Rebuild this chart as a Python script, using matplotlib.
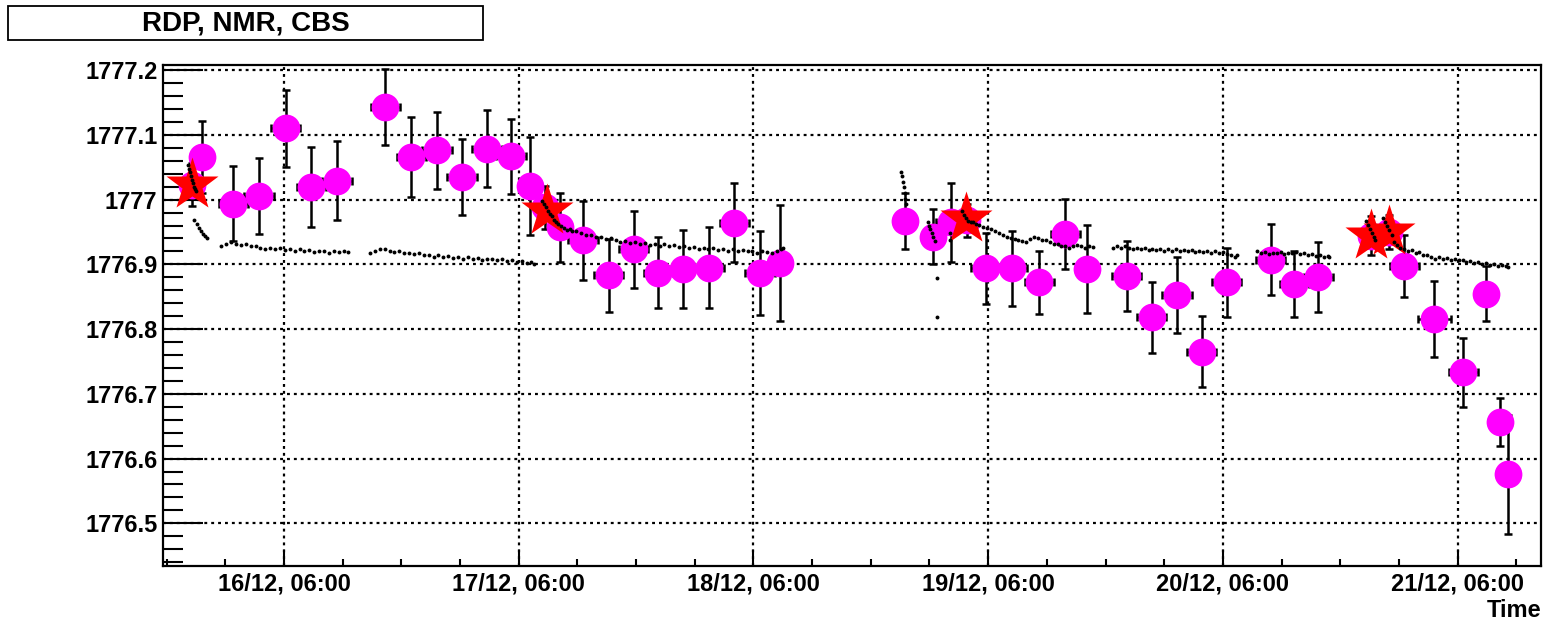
import numpy as np
import matplotlib
matplotlib.use('Agg')
import matplotlib.pyplot as plt
import matplotlib.dates as mdates
from matplotlib.ticker import MultipleLocator, FuncFormatter
from matplotlib.patches import Rectangle
from datetime import datetime

plt.rcParams['font.family'] = 'Liberation Sans'
plt.rcParams['font.weight'] = 'bold'

# all times are hours counted from 15/12 00:00
T0 = datetime(2009, 12, 15)

# === RDP points (magenta, with errors) ===
rdp_hours = [20.60, 21.59, 24.82, 27.45, 30.18, 32.79, 35.42, 40.36, 43.02, 45.64,
             48.20, 50.76, 53.21, 55.15, 56.69, 58.22, 60.57, 63.20, 65.75, 68.27,
             70.83, 73.45, 76.04, 78.67, 80.68, 93.49, 96.39, 98.16, 99.83, 101.74,
             104.43, 107.22, 109.88, 112.07, 116.16, 118.71, 121.30, 123.83, 126.38, 130.88,
             133.29, 135.75, 141.14, 142.98, 144.54, 147.61, 150.57, 152.86, 154.33, 155.11]
rdp_value = [1777.023, 1777.066, 1776.994, 1777.006, 1777.110, 1777.020, 1777.029, 1777.143, 1777.066, 1777.076,
             1777.035, 1777.079, 1777.067, 1777.021, 1776.988, 1776.957, 1776.937, 1776.883, 1776.923, 1776.887,
             1776.893, 1776.895, 1776.964, 1776.887, 1776.902, 1776.967, 1776.943, 1776.965, 1776.968, 1776.894,
             1776.894, 1776.872, 1776.947, 1776.893, 1776.882, 1776.818, 1776.853, 1776.765, 1776.872, 1776.907,
             1776.869, 1776.881, 1776.944, 1776.950, 1776.897, 1776.816, 1776.733, 1776.855, 1776.656, 1776.576]
rdp_err = [0.033, 0.055, 0.058, 0.059, 0.059, 0.062, 0.061, 0.059, 0.062, 0.060,
           0.058, 0.059, 0.058, 0.076, 0.033, 0.053, 0.061, 0.056, 0.060, 0.055,
           0.060, 0.062, 0.061, 0.065, 0.089, 0.044, 0.043, 0.061, 0.025, 0.055,
           0.058, 0.048, 0.054, 0.068, 0.054, 0.055, 0.059, 0.055, 0.054, 0.055,
           0.051, 0.054, 0.030, 0.026, 0.048, 0.059, 0.054, 0.042, 0.037, 0.092]
rdp_herr = [0.6, 0.6, 1.5, 1.5, 1.5, 1.5, 1.5, 1.5, 1.5, 1.5,
            1.5, 1.5, 1.5, 0.6, 0.6, 0.6, 1.5, 1.5, 1.5, 1.5,
            1.5, 1.5, 1.5, 1.5, 0.6, 0.6, 0.6, 1.5, 0.6, 1.5,
            1.5, 1.5, 1.5, 0.6, 1.5, 1.5, 1.5, 1.5, 1.5, 1.5,
            1.5, 1.5, 0.6, 0.6, 1.5, 1.7, 1.5, 1.0, 0.6, 0.6]

# === CBS points (red stars) ===
cbs_hours = [20.55, 56.86, 99.73, 141.14, 142.98]
cbs_value = [1777.022, 1776.982, 1776.970, 1776.944, 1776.950]

# === NMR readings (small black dots) ===
nmr_hours = [
    # 15/12 evening
    20.20, 20.30, 20.40, 20.50, 20.60, 20.70, 20.80, 20.90, 21.00,
    20.80, 21.11, 21.31, 21.52, 21.72, 21.93, 22.13,
    23.6, 24.1, 24.6, 25.1, 25.6, 26.1, 26.6, 27.1, 27.6, 28.1, 28.6, 29.1, 29.6, 30.1,
    30.6, 31.1, 31.6, 32.1, 32.6, 33.1, 33.6, 34.1, 34.6, 35.1, 35.6, 36.1, 36.6,
    # 16/12 afternoon to 17/12 morning
    38.8, 39.3, 39.8, 40.3, 40.8, 41.3, 41.8, 42.3, 42.8, 43.3, 43.8, 44.3, 44.8, 45.3,
    45.8, 46.3, 46.8, 47.3, 47.8, 48.3, 48.8, 49.3, 49.8, 50.3, 50.8, 51.3, 51.8, 52.3,
    52.8, 53.3, 53.8, 54.3, 54.8, 55.3, 55.6,
    # 17/12 to 18/12
    56.4, 56.6, 56.8, 57.0, 57.2, 57.4, 57.6, 57.8, 58.0, 58.3, 58.6, 58.9, 59.2, 59.5,
    59.9, 60.4, 60.9, 61.4, 61.9, 62.4, 62.9, 63.4, 63.9, 64.4, 64.9, 65.4, 65.9, 66.4,
    66.9, 67.4, 67.9, 68.4, 68.9, 69.4, 69.9, 70.4, 70.9, 71.4, 71.9, 72.4, 72.9, 73.4,
    73.9, 74.4, 74.9, 75.4, 75.9, 76.4, 76.9, 77.4, 77.9, 78.4, 78.9, 79.4, 79.9, 80.4,
    80.8, 81.0,
    # 18/12 evening
    93.05, 93.15, 93.25, 93.35, 93.45, 93.55, 93.62,
    95.80, 95.95, 96.10, 96.25, 96.40, 96.55, 96.76, 96.76, 98.09, 98.09,
    99.3, 99.5, 99.7, 99.9, 100.2, 100.5, 100.8, 101.1, 101.5, 101.9, 102.3, 102.7, 103.1,
    103.5, 103.9, 104.3, 104.7, 105.1, 105.5, 105.9, 106.3, 106.7, 107.1, 107.5, 107.9,
    108.3, 108.7, 109.1, 109.5, 109.9, 110.3, 110.7, 111.1, 111.5, 111.9, 112.3, 112.7,
    # 19/12 to 20/12
    114.8, 115.2, 115.6, 116.0, 116.4, 116.8, 117.2, 117.6, 118.0, 118.4, 118.8, 119.2,
    119.6, 120.0, 120.4, 120.8, 121.2, 121.6, 122.0, 122.4, 122.8, 123.2, 123.6, 124.0,
    124.4, 124.8, 125.2, 125.6, 126.0, 126.4, 126.8, 127.2, 127.4,
    129.5, 129.9, 130.3, 130.7, 131.1, 131.5, 131.9, 132.3, 132.7, 133.1, 133.5, 133.9,
    134.3, 134.7, 135.1, 135.5, 135.9, 136.3, 136.7, 136.9,
    # 20/12 evening to 21/12
    140.6, 140.8, 141.0, 141.2, 141.4, 141.55, 142.4, 142.6, 142.8, 143.0, 143.25,
    143.5, 143.8, 144.1, 144.5, 144.9, 145.3, 145.7, 146.1, 146.5, 146.9, 147.3, 147.7,
    148.1, 148.5, 148.9, 149.3, 149.7, 150.1, 150.5, 150.9, 151.3, 151.7, 152.1, 152.5,
    152.9, 153.3, 153.7, 154.1, 154.5, 154.9, 155.2,
]
nmr_value = [
    1777.053, 1777.047, 1777.042, 1777.036, 1777.030, 1777.025, 1777.020, 1777.016, 1777.013,
    1776.968, 1776.962, 1776.956, 1776.951, 1776.947, 1776.944, 1776.941,
    1776.928, 1776.931, 1776.934, 1776.932, 1776.930, 1776.931, 1776.928, 1776.929, 1776.926,
    1776.924, 1776.926, 1776.923, 1776.925, 1776.922, 1776.924, 1776.921, 1776.923, 1776.920,
    1776.922, 1776.919, 1776.921, 1776.920, 1776.918, 1776.920, 1776.919, 1776.921, 1776.919,
    1776.918, 1776.920, 1776.923, 1776.924, 1776.921, 1776.919, 1776.920, 1776.917, 1776.918,
    1776.916, 1776.917, 1776.914, 1776.915, 1776.912, 1776.914, 1776.911, 1776.913, 1776.910,
    1776.912, 1776.909, 1776.911, 1776.908, 1776.910, 1776.907, 1776.909, 1776.908, 1776.906,
    1776.908, 1776.905, 1776.907, 1776.904, 1776.905, 1776.902, 1776.903, 1776.900,
    1776.998, 1776.993, 1776.988, 1776.983, 1776.978, 1776.974, 1776.969, 1776.965, 1776.962,
    1776.959, 1776.956, 1776.953, 1776.954, 1776.952, 1776.951, 1776.948, 1776.946, 1776.945,
    1776.943, 1776.942, 1776.939, 1776.940, 1776.937, 1776.935, 1776.936, 1776.933, 1776.934,
    1776.931, 1776.933, 1776.930, 1776.932, 1776.929, 1776.931, 1776.928, 1776.930, 1776.927,
    1776.929, 1776.926, 1776.927, 1776.924, 1776.926, 1776.923, 1776.925, 1776.922, 1776.924,
    1776.921, 1776.923, 1776.920, 1776.922, 1776.920, 1776.921, 1776.918, 1776.920, 1776.919,
    1776.917, 1776.920, 1776.923, 1776.926,
    1777.043, 1777.036, 1777.028, 1777.019, 1777.010, 1777.001, 1776.994,
    1776.966, 1776.960, 1776.954, 1776.948, 1776.942, 1776.936, 1776.879, 1776.819, 1776.948, 1776.937,
    1776.982, 1776.976, 1776.971, 1776.967, 1776.966, 1776.965, 1776.962, 1776.961, 1776.958,
    1776.956, 1776.954, 1776.951, 1776.948, 1776.945, 1776.942, 1776.940, 1776.939, 1776.937,
    1776.936, 1776.935, 1776.939, 1776.943, 1776.940, 1776.938, 1776.937, 1776.934, 1776.932,
    1776.931, 1776.929, 1776.928, 1776.926, 1776.929, 1776.930, 1776.928, 1776.926, 1776.928,
    1776.927,
    1776.926, 1776.928, 1776.925, 1776.928, 1776.926, 1776.924, 1776.926, 1776.923, 1776.925,
    1776.922, 1776.924, 1776.922, 1776.924, 1776.921, 1776.923, 1776.921, 1776.923, 1776.920,
    1776.922, 1776.920, 1776.922, 1776.919, 1776.921, 1776.919, 1776.921, 1776.918, 1776.920,
    1776.917, 1776.919, 1776.916, 1776.914, 1776.912, 1776.915,
    1776.920, 1776.917, 1776.919, 1776.916, 1776.918, 1776.917, 1776.919, 1776.916, 1776.918,
    1776.917, 1776.919, 1776.916, 1776.917, 1776.915, 1776.916, 1776.913, 1776.914, 1776.912,
    1776.913, 1776.911,
    1776.967, 1776.961, 1776.955, 1776.948, 1776.942, 1776.937, 1776.972, 1776.966, 1776.960,
    1776.953, 1776.945,
    1776.935, 1776.930, 1776.925, 1776.924, 1776.921, 1776.922, 1776.918, 1776.919, 1776.914,
    1776.915, 1776.911, 1776.909, 1776.911, 1776.908, 1776.910, 1776.907, 1776.909, 1776.906,
    1776.907, 1776.904, 1776.905, 1776.902, 1776.903, 1776.901, 1776.902, 1776.899, 1776.900,
    1776.898, 1776.899, 1776.897, 1776.896,
]

t_start, t_stop = 17.63, 158.52
y_min, y_max = 1776.434, 1777.208


def to_num(hours):
    return mdates.date2num(T0) + np.asarray(hours) / 24.0


fig = plt.figure(figsize=(15.49, 6.22), dpi=100)
ax = fig.add_axes([0.1052, 0.0900, 0.8896, 0.8055])

# RDP with error bars
ax.errorbar(to_num(rdp_hours), rdp_value, yerr=rdp_err, xerr=np.asarray(rdp_herr) / 24.0,
            fmt='o', color='#ff00ff', ms=20, mec='none', ecolor='black',
            elinewidth=1.8, capsize=2.6, capthick=1.8, zorder=3)

# CBS stars
ax.plot(to_num(cbs_hours), cbs_value, '*', color='#ff0000', ms=40, mec='none',
        linestyle='none', zorder=4)

# NMR dots
ax.plot(to_num(nmr_hours), nmr_value, 'o', color='black', ms=2.8, mec='none',
        linestyle='none', zorder=5)

ax.set_xlim(to_num(t_start), to_num(t_stop))
ax.set_ylim(y_min, y_max)

# axis ticks and labels
ax.xaxis.set_major_locator(mdates.HourLocator(byhour=[6]))
ax.xaxis.set_minor_locator(mdates.HourLocator(byhour=[0, 6, 12, 18]))
ax.xaxis.set_major_formatter(mdates.DateFormatter('%d/%m, %H:%M'))
ax.yaxis.set_major_locator(MultipleLocator(0.1))
ax.yaxis.set_minor_locator(MultipleLocator(0.02))
ax.yaxis.set_major_formatter(FuncFormatter(lambda v, pos: '%g' % round(v, 1)))

ax.tick_params(axis='y', which='major', direction='in', length=29, width=1.5,
               labelsize=17, pad=4)
ax.tick_params(axis='y', which='minor', direction='in', length=14.5, width=1.5)
ax.tick_params(axis='x', which='major', direction='in', length=11.5, width=1.5,
               labelsize=17, pad=5)
ax.tick_params(axis='x', which='minor', direction='in', length=5, width=1.5)

for s in ax.spines.values():
    s.set_linewidth(1.6)

ax.grid(True, which='major', color='black', linestyle=(0, (1.3, 1.8)), linewidth=1.6)
ax.set_axisbelow(True)

ax.set_xlabel('Time', loc='right', fontsize=17, fontweight='bold', labelpad=2)

# title box
fig.patches.append(Rectangle((8 / 1549, 1 - 40 / 622), 475 / 1549, 34 / 622,
                             transform=fig.transFigure, facecolor='white',
                             edgecolor='black', linewidth=1.3))
fig.text(0.1585, 0.963, 'RDP, NMR, CBS', ha='center', va='center',
         fontsize=20, fontweight='bold')

fig.savefig('out.png', dpi=100)
